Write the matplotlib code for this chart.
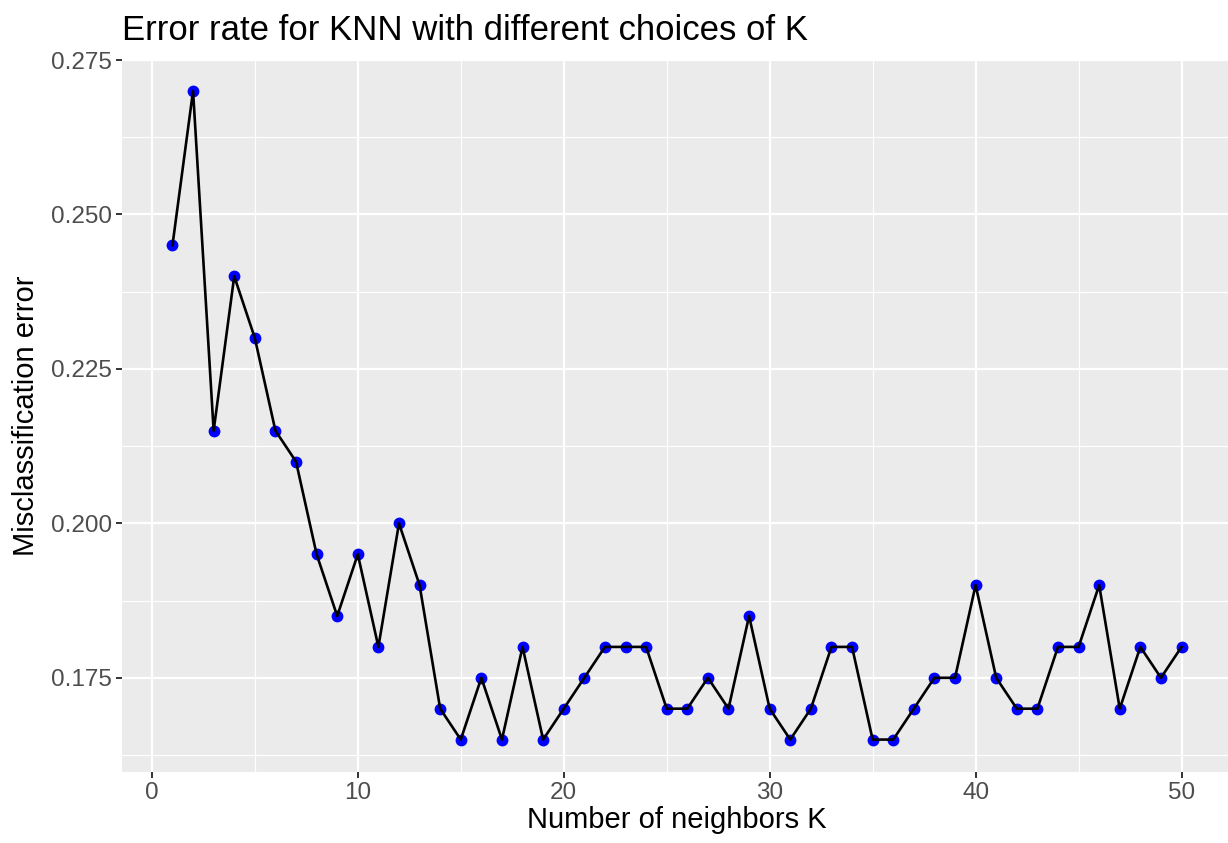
import matplotlib
matplotlib.use("Agg")
import matplotlib.pyplot as plt
from matplotlib.ticker import MultipleLocator

plt.rcParams['font.family'] = ['Liberation Sans', 'DejaVu Sans']

k = list(range(1, 51))
err = [0.245, 0.270, 0.215, 0.240, 0.230, 0.215, 0.210, 0.195, 0.185, 0.195,
       0.180, 0.200, 0.190, 0.170, 0.165, 0.175, 0.165, 0.180, 0.165, 0.170,
       0.175, 0.180, 0.180, 0.180, 0.170, 0.170, 0.175, 0.170, 0.185, 0.170,
       0.165, 0.170, 0.180, 0.180, 0.165, 0.165, 0.170, 0.175, 0.175, 0.190,
       0.175, 0.170, 0.170, 0.180, 0.180, 0.190, 0.170, 0.180, 0.175, 0.180]
yticks = [0.175, 0.200, 0.225, 0.250, 0.275]
xticks = [0, 10, 20, 30, 40, 50]

W, H = 1228, 843
fig = plt.figure(figsize=(W / 100, H / 100), dpi=100)
ax = fig.add_axes([122 / W, (H - 772) / H, (1232 - 122) / W, (772 - 58.5) / H])
ax.set_facecolor('#EBEBEB')

# points first, line drawn over them
ax.plot(k, err, 'o', color='blue', markersize=8.5, markeredgewidth=0, zorder=3)
ax.plot(k, err, color='black', lw=1.9, zorder=4)

ax.set_xlim(-1.45, 52.45)
ax.set_ylim(0.15975, 0.27525)
ax.set_xticks(xticks)
ax.set_yticks(yticks)
ax.set_yticklabels(['%.3f' % v for v in yticks])
ax.xaxis.set_minor_locator(MultipleLocator(5))
ax.set_yticks([0.1625, 0.1875, 0.2125, 0.2375, 0.2625], minor=True)

ax.grid(which='major', color='white', lw=1.6, zorder=0)
ax.grid(which='minor', color='white', lw=0.8, zorder=0)
ax.set_axisbelow(True)
for s in ax.spines.values():
    s.set_visible(False)
ax.tick_params(which='major', length=4, width=1.4, color='#333333',
               labelcolor='#4D4D4D', labelsize=17.5, pad=3)
ax.tick_params(which='minor', length=0)

ax.set_xlabel('Number of neighbors K', fontsize=21, color='black', labelpad=2)
ax.set_ylabel('Misclassification error', fontsize=21, color='black', labelpad=8)
ax.set_title('Error rate for KNN with different choices of K', fontsize=25,
             loc='left', pad=13)

fig.savefig('out.png', dpi=100)
